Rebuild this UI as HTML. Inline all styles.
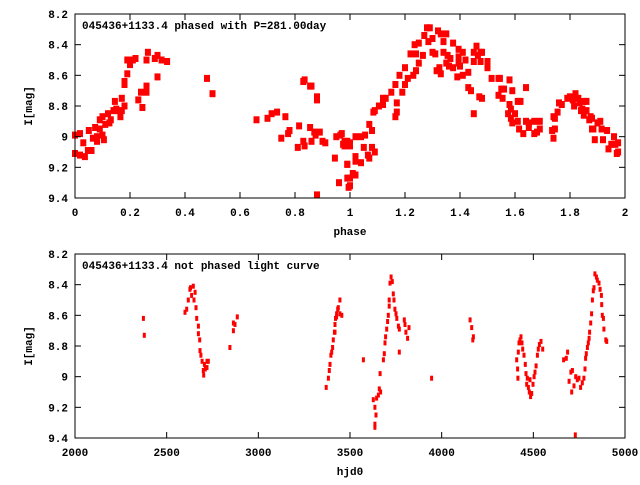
<!DOCTYPE html>
<html><head><meta charset="utf-8"><style>
body{margin:0;background:#fff}
svg text{font-family:"Liberation Mono","DejaVu Sans Mono",monospace;font-size:11px;font-weight:bold;fill:#000}
</style></head><body>
<svg id="chart" width="640" height="480" xmlns="http://www.w3.org/2000/svg">
<rect width="640" height="480" fill="#fff"/>
<g id="top"></g>
<g id="bot"></g>
</svg>
<script>
const topPhase=[0,0,.018,.018,.036,.03,.047,.06,.073,.08,.09,.1,.105,.12,.125,.14,.145,.165,.17,.18,.18,.19,.2,.21,.22,.23,.245,.24,.26,.26,.265,.26,.3,.3,.315,.335,.05,.09,.11,.15,.17,.18,.2,.19,.29,.1,.08,.065,.13,.15,
.48,.5,.66,.7,.715,.735,.765,.75,.775,.78,.81,.815,.83,.835,.83,.835,.855,.86,.855,.88,.88,.86,.87,.875,.88,.89,.9,.91,.945,.95,.96,.965,.975,.98,.99,.995,1.0,1.0,1.02,1.02,
.97,.98,.99,1.0,.99,1.01,1.02,1.02,1.04,1.02,.99,1.0,1.0,1.04,1.055,1.05,1.065,1.07,1.08,1.09,1.07,1.08,1.085,1.09,1.105,1.12,1.12,1.13,1.15,1.165,1.165,1.17,1.17,1.18,1.19,1.2,1.2,1.21,1.23,1.24,1.25,1.22,1.235,1.25,1.24,1.265,1.27,1.28,1.29,1.285,1.3,1.31,1.3,1.32,1.315,1.325,1.33,1.33,1.34,1.35,1.34,1.355,1.35,1.36,1.365,1.375,1.375,1.39,1.395,1.395,1.4,1.395,1.41,1.41,1.42,1.43,1.43,1.44,1.45,1.45,1.45,1.46,1.465,1.475,1.48,1.475,1.5,1.5,1.47,1.48,1.515,1.54,1.54,1.545,1.55,1.555,1.56,1.575,1.58,1.58,1.585,1.59,1.585,1.6,1.59,1.61,1.61,1.62,1.615,1.63,1.64,1.64,1.65,1.65,1.67,1.67,1.68,1.69,1.69,1.735,1.74,1.74,1.745,1.745,1.755,1.76,1.77,1.79,1.8,1.81,1.815,1.82,1.83,1.835,1.84,1.845,1.85,1.85,1.86,1.86,1.87,1.875,1.88,1.88,1.885,1.89,1.9,1.91,1.915,1.92,1.935,1.94,1.95,1.96,1.965,1.97,1.975,1.975];
const topMag=[8.99,9.11,8.98,9.12,9.13,9.04,9.09,9.09,8.94,9.03,8.89,8.87,9.02,8.85,8.91,8.83,8.77,8.87,8.75,8.80,8.64,8.59,8.53,8.50,8.49,8.76,8.81,8.71,8.71,8.50,8.45,8.67,8.61,8.47,8.50,8.51,8.96,8.95,8.92,8.83,8.83,8.66,8.52,8.5,8.49,8.99,9.0,9.01,8.89,8.82,
8.62,8.72,8.89,8.88,8.85,8.84,8.87,9.01,8.98,8.96,9.07,8.93,8.64,8.63,9.03,9.06,8.67,8.67,8.94,8.76,8.74,9.03,8.97,8.99,9.38,8.97,9.03,9.04,9.14,9.0,9.30,8.99,9.05,9.03,9.18,9.33,9.27,9.05,9.13,9.0,
8.98,9.06,9.18,9.32,9.27,9.24,9.25,9.16,9.17,9.14,9.03,9.04,9.06,9.0,8.99,9.07,9.12,9.14,9.07,9.1,8.92,8.96,8.84,8.83,8.80,8.75,8.79,8.75,8.71,8.66,8.87,8.84,8.78,8.60,8.71,8.66,8.55,8.62,8.6,8.57,8.52,8.46,8.40,8.39,8.46,8.47,8.34,8.29,8.29,8.38,8.45,8.46,8.36,8.31,8.57,8.55,8.59,8.33,8.38,8.33,8.45,8.47,8.52,8.54,8.49,8.39,8.55,8.61,8.52,8.48,8.54,8.43,8.60,8.45,8.50,8.68,8.58,8.70,8.85,8.51,8.45,8.41,8.47,8.45,8.45,8.51,8.55,8.51,8.74,8.75,8.62,8.73,8.62,8.62,8.69,8.75,8.69,8.85,8.79,8.63,8.82,8.70,8.88,8.85,8.91,8.90,8.77,8.77,8.95,8.98,8.68,8.9,8.91,8.94,8.98,8.9,8.97,8.9,8.95,8.96,9.01,8.87,8.88,8.95,8.84,8.78,8.79,8.75,8.74,8.76,8.80,8.72,8.75,8.78,8.83,8.82,8.86,8.77,8.77,8.83,8.89,8.87,8.95,8.88,8.95,9.02,8.91,8.90,8.95,9.02,8.96,9.08,9.05,9.0,9.05,9.11,9.04,9.10];
const topXTicks=["0","0.2","0.4","0.6","0.8","1","1.2","1.4","1.6","1.8","2"];
const yTicks=["8.2","8.4","8.6","8.8","9","9.2","9.4"];

const botT=[2373,2378,2600,2609,2618,2627,2630,2636,2645,2649,2655,2660,2664,2673,2673,2680,2682,2687,2693,2700,2702,2711,2720,2727,2720,2706,2845,2864,2873,2864,2885,
3370,3382,3387,3391,3396,3400,3405,3409,3415,3418,3421,3427,3433,3436,3445,3455,3418,3427,3445,3573,3627,3636,3642,3636,3636,3645,3655,3660,3664,3667,3682,3687,3691,3694,3700,3705,3709,3714,3714,3718,3724,3731,3736,3740,3745,3751,3755,3764,3769,3769,3796,3800,3805,3814,3822,3945,4155,4164,4170,4173,
4409,4414,4416,4418,4422,4427,4433,4438,4442,4449,4456,4460,4464,4473,4478,4485,4491,4498,4504,4509,4515,4522,4527,4533,4542,4551,4482,4467,
4665,4680,4687,4695,4705,4713,4709,4722,4731,4740,4749,4758,4767,4776,4782,4785,4789,4795,4800,4804,4807,4813,4818,4822,4827,4831,4836,4844,4849,4858,4864,4871,4873,4876,4882,4885,4895,4900,4729];
const botMag=[8.62,8.73,8.58,8.56,8.50,8.43,8.42,8.47,8.41,8.50,8.45,8.55,8.62,8.67,8.72,8.76,8.83,8.86,8.90,8.96,8.99,8.95,8.9,8.9,8.94,8.92,8.81,8.65,8.66,8.70,8.61,
9.07,9.01,8.96,8.92,8.86,8.84,8.81,8.76,8.71,8.66,8.62,8.59,8.56,8.55,8.59,8.60,8.71,8.61,8.50,8.89,9.15,9.20,9.25,9.31,9.33,9.14,9.12,9.08,8.98,9.10,8.89,8.85,8.78,8.74,8.69,8.64,8.60,8.54,8.50,8.39,8.35,8.38,8.46,8.50,8.56,8.59,8.62,8.67,8.69,8.84,8.63,8.66,8.71,8.75,8.68,9.01,8.63,8.68,8.76,8.74,
8.89,8.95,9.01,8.84,8.78,8.76,8.74,8.78,8.82,8.86,8.92,8.98,9.05,9.07,9.10,9.13,9.11,9.05,9.00,8.97,8.93,8.86,8.82,8.79,8.77,8.82,9.02,9.01,
8.89,8.88,8.84,9.03,8.97,8.96,9.10,9.06,9.0,9.02,9.01,9.07,9.04,9.01,8.95,8.88,8.85,8.81,8.78,8.75,8.71,8.65,8.59,8.50,8.44,8.42,8.33,8.35,8.37,8.39,8.43,8.47,8.53,8.60,8.62,8.69,8.76,8.77,9.38];
const botXTicks=["2000","2500","3000","3500","4000","4500","5000"];

const NS="http://www.w3.org/2000/svg";
function mk(p,tag,at){const e=document.createElementNS(NS,tag);for(const k in at)e.setAttribute(k,at[k]);p.appendChild(e);return e;}
function panel(g,y0,y1,xmin,xmax,xticks,ts,ms,pw,ph,title,xlabel){
  const L=75,R=625;
  const sx=v=>L+(v-xmin)/(xmax-xmin)*(R-L);
  const sy=v=>y0+(v-8.2)/1.2*(y1-y0);
  const pts=mk(g,'g',{});
  
  
  for(let i=0;i<ts.length;i++){
    const r=mk(pts,'rect',{x:(sx(ts[i])-pw/2).toFixed(1),y:(sy(ms[i])-ph/2).toFixed(1),width:pw,height:ph,fill:'#ff0000'});
    
    
  }
  const fr=mk(g,'rect',{x:L,y:y0,width:R-L,height:y1-y0,fill:'none',stroke:'#000','stroke-width':1});
  
  
  const n=xticks.length;
  for(let i=0;i<n;i++){
    const x=L+i*(R-L)/(n-1);
    mk(g,'line',{x1:x,x2:x,y1:y1,y2:y1-6,stroke:'#000'});
    mk(g,'line',{x1:x,x2:x,y1:y0,y2:y0+6,stroke:'#000'});
    const t=mk(g,'text',{x:x,y:y1+18,'text-anchor':'middle'});t.textContent=xticks[i];
    
    
  }
  for(let i=0;i<yTicks.length;i++){
    const y=y0+i*(y1-y0)/(yTicks.length-1);
    mk(g,'line',{x1:L,x2:L+6,y1:y,y2:y,stroke:'#000'});
    mk(g,'line',{x1:R,x2:R-6,y1:y,y2:y,stroke:'#000'});
    const t=mk(g,'text',{x:L-7,y:y+4,'text-anchor':'end'});t.textContent=yTicks[i];
    
    
  }
  const tt=mk(g,'text',{x:82,y:y0+15});tt.textContent=title;
  
  
  const xl=mk(g,'text',{x:(L+R)/2,y:y1+37,'text-anchor':'middle'});xl.textContent=xlabel;
  
  
  const yl=mk(g,'text',{x:0,y:0,'text-anchor':'middle',transform:`translate(32,${(y0+y1)/2}) rotate(-90)`});yl.textContent='I[mag]';
  
  
}
panel(document.getElementById('top'),14,198,0,2,topXTicks,topPhase,topMag,6,7,'045436+1133.4 phased with P=281.00day','phase');
panel(document.getElementById('bot'),254,438,2000,5000,botXTicks,botT,botMag,3,5,'045436+1133.4 not phased light curve','hjd0');
</script>
</body></html>
